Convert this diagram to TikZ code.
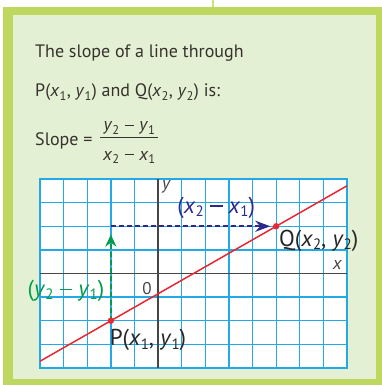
\documentclass[tikz,border=0pt]{standalone}
\usepackage{fontspec}
\setmainfont{PT Sans}
\usetikzlibrary{arrows.meta,calc}
\definecolor{frameG}{RGB}{190,215,95}
\definecolor{bgG}{RGB}{228,240,212}
\definecolor{gridB}{RGB}{35,170,230}
\definecolor{lineR}{RGB}{232,40,50}
\definecolor{arrG}{RGB}{0,155,75}
\definecolor{arrB}{RGB}{45,40,140}
\definecolor{txt}{RGB}{55,50,45}
\definecolor{axisC}{RGB}{70,70,70}
\newcommand{\sbs}[1]{\raisebox{-0.3ex}{\fontsize{15}{16}\selectfont #1}}
\newcommand{\tsb}[1]{\textsubscript{#1}}
\newcommand{\mns}{\hbox{\rule[0.26em]{0.55em}{0.07em}}}
\tikzset{
  toptext/.style={anchor=base west, inner sep=0pt, text=txt, font=\fontsize{18}{21}\selectfont},
  lbl/.style={inner sep=0pt, font=\fontsize{23}{26}\selectfont},
  axislbl/.style={inner sep=0pt, font=\fontsize{18}{20}\selectfont\itshape, text=axisC},
  dashline/.style={dash pattern=on 5pt off 3pt, line width=2.3pt}
}
\begin{document}
\begin{tikzpicture}[x=1pt,y=-1pt]
\useasboundingbox (0,0) rectangle (382,385);
\fill[white] (0,0) rectangle (382,385);
\fill[frameG] (3.3,7) rectangle (382,385);
\fill[bgG] (13.3,15) rectangle (376,379);
\draw[frameG!80, line width=2pt] (213,0) -- (213,7);

\node[toptext] (t1) at (35,58) {The slope of a line through};
\node[toptext] (t2) at (35,97) {P(\textit{x}\tsb{1}, \textit{y}\tsb{1}) and Q(\textit{x}\tsb{2}, \textit{y}\tsb{2}) is:};
\node[toptext] (t3) at (35,145) {Slope =};
\node[toptext, anchor=base] (num) at (129.5,131) {\textit{y}\tsb{2} \mns{} \textit{y}\tsb{1}};
\node[toptext, anchor=base] (den) at (129.5,160) {\textit{x}\tsb{2} \mns{} \textit{x}\tsb{1}};
\draw[txt, line width=1pt] (100,137) -- (158,137);

\begin{scope}[shift={(158.1,273.5)}, x=23.62pt, y=23.62pt]
  \fill[white] (-5,-4) rectangle (8,4);
  \foreach \i in {-5,...,8} \draw[gridB, line width=1.3pt] (\i,-4) -- (\i,4);
  \foreach \j in {-4,...,4} \draw[gridB, line width=1.3pt] (-5,\j) -- (8,\j);
  \draw[gridB, line width=2pt] (-5,-4) rectangle (8,4);
  \draw[axisC, line width=1.5pt] (-5,0) -- (8,0);
  \draw[axisC, line width=1.5pt] (0,-4) -- (0,4);
  \coordinate (P) at (-2,-2);
  \coordinate (Q) at (5,2);
  \coordinate (L1) at (-5,-26/7);
  \coordinate (L2) at (8,26/7);
  \coordinate (C) at (-2,2);
  \coordinate (Gend) at (-2,1.65);
  \coordinate (Bend) at (4.75,2);
  \draw[arrG, dashline, -{Stealth[length=12pt,width=11pt]}] (P) -- (Gend);
  \draw[arrB, dashline, -{Stealth[length=15pt,width=11pt]}] (C) -- (Bend);
  \draw[lineR, line width=1.5pt] (L1) -- (L2);
  \fill[lineR] (P) circle (3.2pt);
  \fill[lineR] (Q) circle (3.2pt);
  \node[axislbl] (ylab) at (0.34,3.66) {y};
  \node[axislbl] (xlab) at (7.58,0.36) {x};
  \node[lbl, font=\fontsize{17}{20}\selectfont, text=axisC] (zero) at (-0.47,-0.62) {0};
  \node[lbl, text=arrB] (dx) at (2.46,2.8) {(\textit{x}\sbs{2} \mns{} \textit{x}\sbs{1})};
  \node[lbl, text=black!85] (qlab) at (6.8,1.4) {Q(\textit{x}\sbs{2}, \textit{y}\sbs{2})};
  \node[lbl, text=arrG] (dy) at (-3.9,-0.72) {(\textit{y}\sbs{2} \mns{} \textit{y}\sbs{1})};
  \node[lbl, text=black!85] (plab) at (-0.43,-2.82) {P(\textit{x}\sbs{1}, \textit{y}\sbs{1})};
\end{scope}
\end{tikzpicture}
\end{document}
